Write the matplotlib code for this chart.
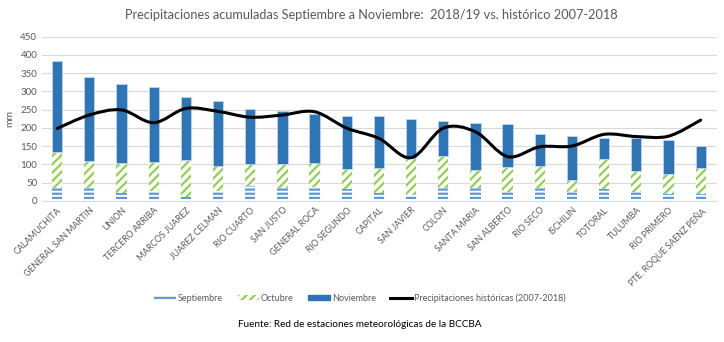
import numpy as np
import matplotlib
matplotlib.use("Agg")
import matplotlib.pyplot as plt
from matplotlib.path import Path
from matplotlib.patches import PathPatch
from matplotlib.lines import Line2D
from matplotlib.patches import Patch

plt.rcParams["font.family"] = ["Lato", "DejaVu Sans"]
plt.rcParams["hatch.linewidth"] = 1.6

# data (mm)
departamentos = ["CALAMUCHITA", "GENERAL SAN MARTIN", "UNION", "TERCERO ARRIBA",
                 "MARCOS JUAREZ", "JUAREZ CELMAN", "RIO CUARTO", "SAN JUSTO",
                 "GENERAL ROCA", "RIO SEGUNDO", "CAPITAL", "SAN JAVIER", "COLON",
                 "SANTA MARIA", "SAN ALBERTO", "RIO SECO", "ISCHILIN", "TOTORAL",
                 "TULUMBA", "RIO PRIMERO", "PTE. ROQUE SAENZ PEÑA"]
septiembre = [36, 36, 22, 27, 11, 26, 40, 34, 38, 31, 21, 16, 36, 35, 23, 36, 24, 33, 24, 18, 18]
octubre = [99, 72, 81, 79, 101, 68, 62, 66, 66, 55, 69, 100, 86, 49, 70, 60, 33, 82, 58, 55, 71]
noviembre = [248, 231, 218, 206, 173, 180, 150, 147, 134, 146, 142, 109, 97, 130, 118, 86, 121, 56, 90, 94, 61]
historico = [198, 235, 249, 214, 253, 245, 229, 235, 244, 199, 171, 118, 199, 189, 121, 148, 150, 182, 176, 177, 221]

x = np.arange(len(departamentos))
sep = np.array(septiembre)
octu = np.array(octubre)
nov = np.array(noviembre)

fig = plt.figure(figsize=(7.24, 3.42), dpi=100)
ax = fig.add_axes([0.058, 0.413, 0.932, 0.48])

w = 0.32
ax.bar(x, sep, w, color="white", edgecolor="#5b9bd5", hatch="----", linewidth=0, zorder=2)
ax.bar(x, octu, w, bottom=sep, color="white", edgecolor="#92d050", hatch="////", linewidth=0, zorder=2)
ax.bar(x, nov, w, bottom=sep + octu, color="#2e75b6", edgecolor="#bdd7ee", linewidth=0.6, zorder=2)


# smooth line like the spreadsheet one (catmull-rom -> bezier)
def smooth_path(xs, ys, t=1 / 6.0):
    verts = [(xs[0], ys[0])]
    codes = [Path.MOVETO]
    n = len(xs)
    for i in range(n - 1):
        p0 = (xs[max(i - 1, 0)], ys[max(i - 1, 0)])
        p1 = (xs[i], ys[i])
        p2 = (xs[i + 1], ys[i + 1])
        p3 = (xs[min(i + 2, n - 1)], ys[min(i + 2, n - 1)])
        c1 = (p1[0] + (p2[0] - p0[0]) * t, p1[1] + (p2[1] - p0[1]) * t)
        c2 = (p2[0] - (p3[0] - p1[0]) * t, p2[1] - (p3[1] - p1[1]) * t)
        verts += [c1, c2, p2]
        codes += [Path.CURVE4] * 3
    return Path(verts, codes)


ax.add_patch(PathPatch(smooth_path(x, historico), facecolor="none", edgecolor="black",
                       linewidth=2.2, zorder=3, capstyle="round"))

ax.set_xlim(-0.47, 20.5)
ax.set_ylim(0, 450)
ax.set_yticks(range(0, 451, 50))
ax.grid(axis="y", color="#d9d9d9", linewidth=0.8, zorder=0)
for s in ["top", "right", "left"]:
    ax.spines[s].set_visible(False)
ax.spines["bottom"].set_color("#d9d9d9")
ax.tick_params(axis="both", length=0, colors="#595959", labelsize=7)
ax.set_xticks(x)
ax.set_xticklabels(departamentos, rotation=45, ha="right", rotation_mode="anchor", fontsize=6.3)
ax.set_ylabel("mm", color="#595959", fontsize=7.5, labelpad=4)

fig.text(0.513, 0.955, "Precipitaciones acumuladas Septiembre a Noviembre:  2018/19 vs. histórico 2007-2018",
         ha="center", va="center", fontsize=9.2, color="#595959")

handles = [
    Patch(facecolor="white", edgecolor="#5b9bd5", hatch="----", linewidth=0),
    Patch(facecolor="white", edgecolor="#92d050", hatch="////", linewidth=0),
    Patch(facecolor="#2e75b6", edgecolor="#2e75b6"),
    Line2D([0], [0], color="black", linewidth=2.2),
]
labels = ["Septiembre", "Octubre", "Noviembre", "Precipitaciones históricas (2007-2018)"]
leg = fig.legend(handles, labels, loc="center", bbox_to_anchor=(0.497, 0.129), ncol=4, frameon=False,
                 fontsize=6.5, handlelength=2.4, handleheight=0.6, handletextpad=0.2, columnspacing=1.6)
for t in leg.get_texts():
    t.set_color("#595959")

fig.text(0.497, 0.05, "Fuente: Red de estaciones meteorológicas de la BCCBA",
         ha="center", va="center", fontsize=7.2, color="black")

fig.savefig("out.png", dpi=100)
